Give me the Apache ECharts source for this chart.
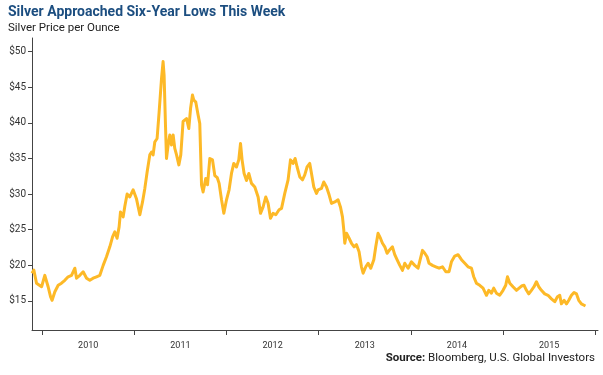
<!DOCTYPE html>
<html>
<head>
<meta charset="utf-8">
<script src="https://cdn.jsdelivr.net/npm/echarts@6/dist/echarts.min.js"></script>
<style>
  html, body { margin: 0; padding: 0; background: #fff; }
  #chart { width: 603px; height: 375px; }
</style>
</head>
<body>
<div id="chart"></div>
<script>
// silver price (fractional year, USD per ounce)
var years = [
  2009.890, 2009.910, 2009.939, 2009.994, 2010.029, 2010.048, 2010.065, 2010.091, 2010.108, 2010.138,
  2010.174, 2010.210, 2010.246, 2010.282, 2010.319, 2010.355, 2010.373, 2010.409, 2010.445, 2010.482,
  2010.517, 2010.553, 2010.590, 2010.626, 2010.662, 2010.698, 2010.734, 2010.764, 2010.788, 2010.813,
  2010.835, 2010.850, 2010.879, 2010.897, 2010.922, 2010.951, 2010.987, 2011.024, 2011.060, 2011.089,
  2011.114, 2011.139, 2011.168, 2011.187, 2011.204, 2011.222, 2011.247, 2011.269, 2011.295, 2011.312,
  2011.323, 2011.338, 2011.349, 2011.367, 2011.385, 2011.403, 2011.421, 2011.439, 2011.458, 2011.483,
  2011.504, 2011.529, 2011.566, 2011.591, 2011.610, 2011.631, 2011.645, 2011.667, 2011.692, 2011.710,
  2011.729, 2011.746, 2011.775, 2011.794, 2011.819, 2011.848, 2011.873, 2011.900, 2011.920, 2011.946,
  2011.971, 2012.000, 2012.028, 2012.054, 2012.079, 2012.108, 2012.133, 2012.152, 2012.169, 2012.191,
  2012.217, 2012.242, 2012.271, 2012.307, 2012.343, 2012.369, 2012.397, 2012.426, 2012.451, 2012.477,
  2012.505, 2012.535, 2012.570, 2012.597, 2012.632, 2012.668, 2012.694, 2012.722, 2012.744, 2012.766,
  2012.795, 2012.824, 2012.849, 2012.874, 2012.903, 2012.922, 2012.947, 2012.976, 2012.994, 2013.030,
  2013.055, 2013.085, 2013.113, 2013.139, 2013.175, 2013.210, 2013.236, 2013.258, 2013.272, 2013.283,
  2013.302, 2013.330, 2013.356, 2013.384, 2013.410, 2013.438, 2013.464, 2013.482, 2013.511, 2013.536,
  2013.565, 2013.598, 2013.619, 2013.644, 2013.670, 2013.692, 2013.717, 2013.742, 2013.771, 2013.800,
  2013.825, 2013.850, 2013.880, 2013.909, 2013.934, 2013.970, 2014.006, 2014.042, 2014.078, 2014.126,
  2014.151, 2014.176, 2014.197, 2014.234, 2014.270, 2014.306, 2014.343, 2014.379, 2014.414, 2014.440,
  2014.476, 2014.512, 2014.549, 2014.585, 2014.620, 2014.657, 2014.682, 2014.711, 2014.747, 2014.783,
  2014.820, 2014.845, 2014.874, 2014.899, 2014.928, 2014.964, 2015.000, 2015.029, 2015.048, 2015.073,
  2015.108, 2015.145, 2015.163, 2015.200, 2015.228, 2015.254, 2015.279, 2015.308, 2015.336, 2015.362,
  2015.387, 2015.416, 2015.452, 2015.488, 2015.525, 2015.561, 2015.590, 2015.615, 2015.633, 2015.662,
  2015.688, 2015.713, 2015.742, 2015.770, 2015.796, 2015.821, 2015.850, 2015.879, 2015.894
];
var prices = [
  18.9, 19.35, 17.5, 17.0, 18.6, 18.8, 17.0, 15.6, 15.1, 16.3,
  17.2, 17.5, 17.9, 18.4, 18.6, 19.6, 18.2, 18.6, 19.1, 18.2,
  17.9, 18.2, 18.4, 18.6, 20.0, 21.2, 22.6, 24.0, 24.7, 23.8,
  25.4, 27.5, 26.8, 28.3, 30.0, 29.6, 30.6, 29.3, 27.1, 28.9,
  30.8, 33.1, 35.5, 35.9, 35.5, 37.3, 37.8, 41.5, 46.2, 48.6,
  46.7, 39.7, 35.0, 36.9, 38.3, 36.9, 38.3, 36.4, 35.5, 34.1,
  35.5, 40.2, 40.6, 39.2, 42.0, 43.9, 43.2, 42.9, 41.1, 39.9,
  31.3, 30.3, 32.2, 31.3, 35.0, 34.8, 32.6, 32.3, 31.5, 29.2,
  27.3, 29.2, 30.6, 32.9, 34.3, 33.8, 34.8, 37.1, 34.8, 32.9,
  31.9, 32.9, 31.5, 31.0, 29.6, 27.3, 28.2, 29.6, 28.7, 26.6,
  27.3, 27.1, 27.8, 28.0, 30.1, 32.0, 34.8, 34.3, 35.0, 33.8,
  32.4, 32.0, 32.7, 33.8, 34.3, 32.9, 31.0, 30.1, 30.6, 30.8,
  31.7, 31.0, 29.9, 28.7, 28.9, 29.2, 28.2, 26.8, 25.0, 23.1,
  24.5, 23.8, 23.1, 22.6, 22.9, 21.9, 19.8, 18.9, 19.8, 20.3,
  19.6, 20.8, 22.6, 24.5, 23.8, 23.1, 22.6, 21.7, 22.2, 22.6,
  21.5, 20.8, 20.0, 19.3, 20.3, 19.6, 20.5, 20.0, 19.6, 22.1,
  21.7, 21.2, 20.3, 20.0, 19.8, 19.6, 19.8, 19.1, 19.1, 20.5,
  21.3, 21.5, 20.8, 20.3, 19.8, 19.6, 18.4, 17.5, 17.2, 16.8,
  15.8, 16.5, 16.1, 16.8, 16.1, 15.8, 16.5, 17.2, 18.4, 17.5,
  17.0, 16.5, 16.5, 17.1, 17.2, 16.5, 16.0, 16.5, 17.0, 17.7,
  17.0, 16.5, 16.0, 15.8, 15.3, 14.9, 15.6, 15.8, 14.6, 15.1,
  14.6, 15.1, 15.8, 16.2, 16.0, 15.1, 14.6, 14.4, 14.3
];
var yearTicks = [2010, 2011, 2012, 2013, 2014, 2015, 2016];
var yearLabelPos = [2010.5, 2011.5, 2012.5, 2013.5, 2014.5, 2015.5];
var priceTicks = [15, 20, 25, 30, 35, 40, 45, 50];

var seriesData = years.map(function(y, i){ return [y, prices[i]]; });

var font = 'Roboto';
var myChart = echarts.init(document.getElementById('chart'));
myChart.setOption({
  animation: false,
  title: [{
    text: 'Silver Approached Six-Year Lows This Week',
    subtext: 'Silver Price per Ounce',
    left: 3, top: 0,
    itemGap: 3,
    textStyle: { fontFamily: font, fontWeight: 'bold', fontSize: 14, color: '#1c4e80' },
    subtextStyle: { fontFamily: font, fontSize: 11.5, color: '#222' }
  }, {
    text: '{b|Source:} Bloomberg, U.S. Global Investors',
    right: 3, bottom: 6,
    textStyle: {
      fontFamily: font, fontSize: 11.5, fontWeight: 'normal', color: '#222',
      rich: { b: { fontFamily: font, fontSize: 11.5, fontWeight: 'bold', color: '#222' } }
    }
  }],
  grid: { left: 32, right: 5, top: 38, bottom: 45 },
  xAxis: {
    type: 'value',
    min: 2009.89, max: 2016.03,
    splitLine: { show: false },
    axisLine: { lineStyle: { color: '#444', width: 1 } },
    axisTick: { customValues: yearTicks, length: 5, lineStyle: { color: '#444' } },
    axisLabel: {
      customValues: yearLabelPos,
      formatter: function(v){ return String(Math.floor(v)); },
      fontFamily: font, fontSize: 9, color: '#333', margin: 11
    }
  },
  yAxis: {
    type: 'value',
    min: 10.93, max: 51.9,
    splitLine: { show: false },
    axisLine: { show: true, lineStyle: { color: '#444', width: 1 } },
    axisTick: { show: true, customValues: priceTicks, length: 4, lineStyle: { color: '#444' } },
    axisLabel: {
      customValues: priceTicks,
      formatter: function(v){ return '$' + v; },
      fontFamily: font, fontSize: 10, color: '#333', margin: 6
    }
  },
  series: [{
    type: 'line',
    data: seriesData,
    showSymbol: false,
    smooth: false,
    lineStyle: { color: '#fdb927', width: 3, join: 'round' },
    itemStyle: { color: '#fdb927' }
  }]
});
</script>
</body>
</html>
